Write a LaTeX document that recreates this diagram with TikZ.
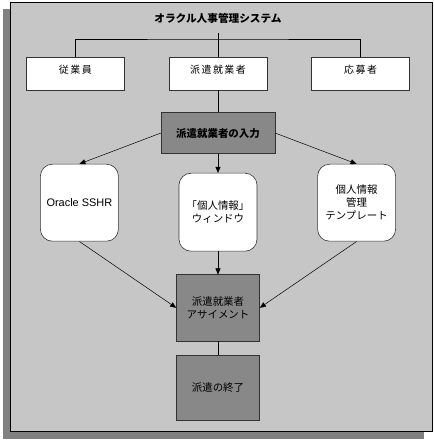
\documentclass[tikz,border=0pt]{standalone}
\usepackage{fontspec}
\setmainfont{Noto Sans CJK JP}
\newfontfamily\latinfont{Liberation Sans}
\usetikzlibrary{arrows.meta, positioning}
\definecolor{panel}{HTML}{C6C6C6}
\definecolor{shadow}{HTML}{808080}
\definecolor{darkbox}{HTML}{888888}

\begin{document}
\begin{tikzpicture}[
  x=1bp, y=-1bp,
  node distance=20bp,
  box/.style={draw=black!80, fill=white, line width=0.6pt, inner sep=0pt,
              font=\fontsize{10.5}{13}\selectfont, align=center},
  topbox/.style={box, minimum width=98bp, minimum height=33bp, text depth=8bp,
                 font=\fontsize{10}{13}\selectfont\addfontfeature{LetterSpace=15}},
  roundbox/.style={box, rounded corners=12bp, minimum width=78bp},
  stepbox/.style={box, fill=darkbox, minimum width=83bp},
  arr/.style={-{Triangle[length=6bp, width=5bp]}, line width=0.5pt},
  link/.style={line width=0.5pt}
]
  % Frame and shadow
  \useasboundingbox (0,0) rectangle (434,441);
  \fill[white] (0,0) rectangle (434,441);
  \fill[shadow] (3,9) rectangle (424,439);
  \draw[fill=panel, line width=0.8pt] (10.5,2) rectangle (432.5,431);

  % Title and person types
  \node[font=\fontsize{10.7}{12}\selectfont\bfseries] (title) at (218,18) {オラクル人事管理システム};
  \node[topbox] (haken) at (218,73.5) {派遣就業者};
  \node[topbox, left=44bp of haken] (emp) {従業員};
  \node[topbox, right=44bp of haken] (app) {応募者};

  % Entry and the three ways in
  \node[stepbox, minimum width=114bp, minimum height=41bp, below=22bp of haken,
        font=\fontsize{10.5}{13}\selectfont\bfseries] (entry) {派遣就業者の入力};
  \node[roundbox, minimum height=78bp, below=19bp of entry] (window) {「個人情報」\\ウィンドウ};
  \node[roundbox, minimum height=77bp, left=60bp of window, yshift=9.5bp] (sshr)
    {\fontsize{11}{13}\latinfont Oracle SSHR};
  \node[roundbox, minimum height=77bp, right=60bp of window, yshift=9.5bp] (tmpl)
    {個人情報\\管理\\テンプレート};

  % Assignment and end
  \node[stepbox, minimum height=66bp, below=23bp of window] (assign) {派遣就業者\\アサイメント};
  \node[stepbox, minimum height=65bp, below=14bp of assign] (finish) {派遣の終了};

  % Connectors
  \coordinate (stem) at (218,33);
  \coordinate (fork) at (218,39);
  \draw[link] (stem) -- (fork);
  \draw[link] (emp.north) |- (fork) -| (app.north);
  \draw[link] (fork) -- (haken.north);
  \draw[link] (haken) -- (entry);

  \draw[arr] (entry.west) -- (sshr.north);
  \draw[arr] (entry) -- (window);
  \draw[arr] (entry.east) -- (tmpl.north);

  \draw[arr] (sshr.south) -- (assign.west);
  \draw[arr] (window) -- (assign);
  \draw[arr] (tmpl.south) -- (assign.east);
  \draw[link] (assign) -- (finish);
\end{tikzpicture}
\end{document}
